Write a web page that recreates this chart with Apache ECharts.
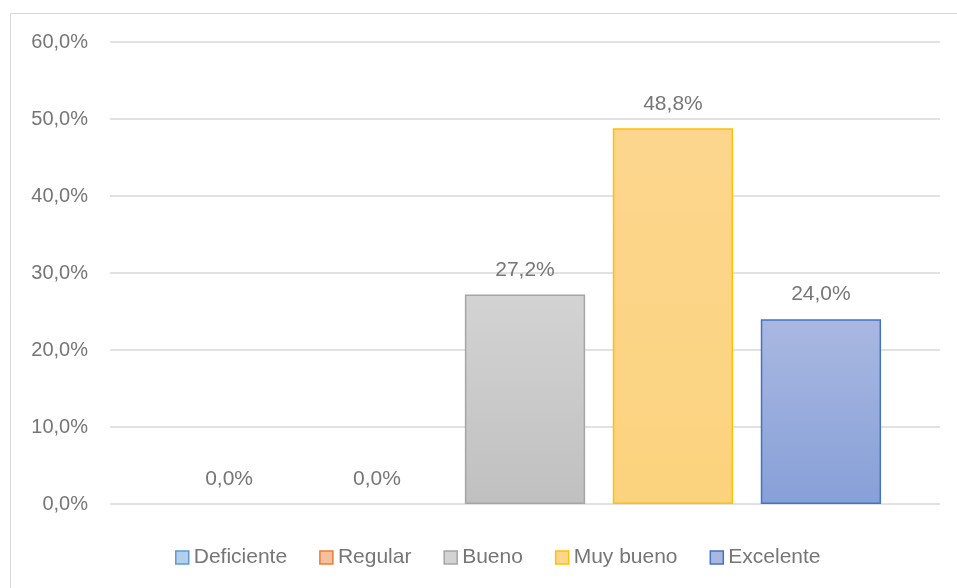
<!DOCTYPE html>
<html><head><meta charset="utf-8">
<script src="https://cdn.jsdelivr.net/npm/echarts@6/dist/echarts.min.js"></script>
<style>html,body{margin:0;padding:0;background:#fff}#c{width:957px;height:588px}</style>
</head><body><div id="c"></div>
<script>
const categories = [''];
const seriesNames = ['Deficiente', 'Regular', 'Bueno', 'Muy bueno', 'Excelente'];
const values = [0.0, 0.0, 27.2, 48.8, 24.0];
const yTicks = [0, 10, 20, 30, 40, 50, 60];

const borders = ['#5B9BD5', '#ED7D31', '#A5A5A5', '#FFC000', '#4472C4'];
const topFill = ['#B4CFEB', '#F6BFA0', '#D3D3D3', '#FDD68E', '#A9B8E1'];
const botFill = ['#9DC0E5', '#F3A985', '#C0C0C0', '#FBD37E', '#87A0D8'];
const fmt = v => v.toFixed(1).replace('.', ',') + '%';
const FONT = 'Liberation Sans';
const TXT = '#767676';

const chart = echarts.init(document.getElementById('c'), null, {renderer: 'canvas'});
chart.setOption({
  animation: false,
  graphic: [{type: 'rect', shape: {x: 10.5, y: 13.5, width: 960, height: 600}, style: {fill: 'none', stroke: '#d9d9d9', lineWidth: 1}, silent: true}],
  grid: {left: 110, right: 17, top: 42, bottom: 84},
  legend: {
    bottom: 15, left: 170,
    itemWidth: 13, itemHeight: 13, itemGap: 32,
    textStyle: {color: TXT, fontSize: 21, fontFamily: FONT, padding: [0, 0, 0, 0]},
    data: seriesNames.map((n, i) => ({name: n, icon: 'rect', itemStyle: {color: topFill[i], borderColor: borders[i], borderWidth: 1.5}}))
  },
  xAxis: {type: 'category', data: categories, axisLine: {show: false}, axisTick: {show: false}, axisLabel: {show: false}},
  yAxis: {
    type: 'value', min: yTicks[0], max: yTicks[yTicks.length - 1], interval: 10,
    axisLine: {show: false}, axisTick: {show: false},
    splitLine: {lineStyle: {color: '#d9d9d9', width: 1.5}},
    axisLabel: {formatter: v => fmt(v), color: TXT, fontSize: 20, fontFamily: FONT, margin: 22}
  },
  series: seriesNames.map((n, i) => ({
    name: n, type: 'bar',
    data: [{value: values[i], itemStyle: values[i] === 0 ? {borderWidth: 0, opacity: 0} : {}}],
    barGap: '23%', barCategoryGap: '14.2%',
    itemStyle: {
      color: {type: 'linear', x: 0, y: 0, x2: 0, y2: 1, colorStops: [{offset: 0, color: topFill[i]}, {offset: 1, color: botFill[i]}]},
      borderColor: borders[i], borderWidth: 1.5
    },
    label: {show: true, position: 'top', distance: 14, formatter: p => fmt(p.value), color: TXT, fontSize: 21, fontFamily: FONT, opacity: 1}
  }))
});
</script></body></html>
